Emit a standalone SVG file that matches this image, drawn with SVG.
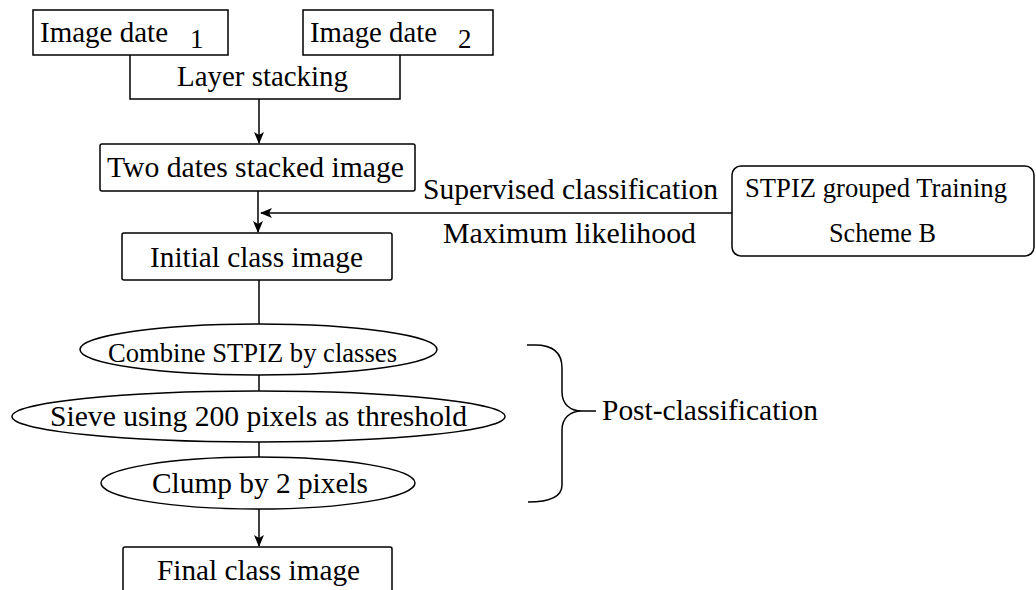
<svg xmlns="http://www.w3.org/2000/svg" width="1036" height="590" viewBox="0 0 1036 590">
<style>
.b{fill:none;stroke:#000;stroke-width:1.5}
.t{font-family:"Liberation Serif","Times New Roman",Times,serif;font-size:30px;fill:#000}
.r{font-family:"Liberation Serif","Times New Roman",Times,serif;font-size:27px;fill:#000}
.c{fill:none;stroke:#000;stroke-width:1.5}
</style>
<defs>
<marker id="ah" markerUnits="userSpaceOnUse" markerWidth="12" markerHeight="12" viewBox="0 0 12 12" refX="11" refY="6" orient="auto">
<path d="M0,1 L12,6 L0,11 L3,6 z" fill="#000"/>
</marker>
</defs>
<rect width="1036" height="590" fill="#fff"/>
<g id="connectors">
<line class="c" x1="259" y1="99" x2="259" y2="143" marker-end="url(#ah)"/>
<line class="c" x1="258" y1="191" x2="258" y2="232" marker-end="url(#ah)"/>
<line class="c" x1="732" y1="213" x2="261" y2="213" marker-end="url(#ah)"/>
<line class="c" x1="259" y1="280" x2="259" y2="324"/>
<line class="c" x1="259" y1="375" x2="259" y2="391"/>
<line class="c" x1="259" y1="442" x2="259" y2="457"/>
<line class="c" x1="259" y1="509" x2="259" y2="546" marker-end="url(#ah)"/>
<path class="c" d="M527,345 H535 C552,345 562,352 562,368 V392 C562,404 570,411 582,411 H596 M582,411 C570,411 562,418 562,430 V485 C562,497 550,502 528,502"/>
</g>
<g id="n1">
<rect class="b" x="33" y="10" width="195" height="45"/>
<text class="t" x="40" y="42" textLength="128" lengthAdjust="spacingAndGlyphs">Image date</text>
<text class="r" x="190" y="48">1</text>
</g>
<g id="n2">
<rect class="b" x="303" y="10" width="190" height="45"/>
<text class="t" x="310" y="42" textLength="127" lengthAdjust="spacingAndGlyphs">Image date</text>
<text class="r" x="458" y="48">2</text>
</g>
<g id="n3">
<path class="b" d="M130,55 V99 H400 V55"/>
<text class="t" x="177" y="86" textLength="171" lengthAdjust="spacingAndGlyphs">Layer stacking</text>
</g>
<g id="n4">
<rect class="b" x="100" y="144" width="315" height="47" rx="2"/>
<text class="t" x="107" y="177" textLength="297" lengthAdjust="spacingAndGlyphs">Two dates stacked image</text>
</g>
<g id="n5">
<rect class="b" x="732" y="166" width="302" height="90" rx="9"/>
<text class="r" x="745" y="197" textLength="262" lengthAdjust="spacingAndGlyphs">STPIZ grouped Training</text>
<text class="r" x="829" y="242" textLength="107" lengthAdjust="spacingAndGlyphs">Scheme B</text>
</g>
<g id="lbl">
<text class="t" x="423" y="199" textLength="295" lengthAdjust="spacingAndGlyphs">Supervised classification</text>
<text class="t" x="443" y="243" textLength="253" lengthAdjust="spacingAndGlyphs">Maximum likelihood</text>
<text class="t" x="602" y="420" textLength="216" lengthAdjust="spacingAndGlyphs">Post-classification</text>
</g>
<g id="n6">
<rect class="b" x="122" y="233" width="270" height="47" rx="2"/>
<text class="t" x="150" y="267" textLength="213" lengthAdjust="spacingAndGlyphs">Initial class image</text>
</g>
<g id="n7">
<ellipse class="b" cx="258.5" cy="349.5" rx="178.5" ry="25.5"/>
<text class="r" x="108" y="362" font-size="28" textLength="289" lengthAdjust="spacingAndGlyphs">Combine STPIZ by classes</text>
</g>
<g id="n8">
<ellipse class="b" cx="258.5" cy="416.5" rx="246.5" ry="25.5"/>
<text class="t" x="50" y="426" textLength="417" lengthAdjust="spacingAndGlyphs">Sieve using 200 pixels as threshold</text>
</g>
<g id="n9">
<ellipse class="b" cx="258" cy="483" rx="157" ry="26"/>
<text class="t" x="152" y="493" textLength="216" lengthAdjust="spacingAndGlyphs">Clump by 2 pixels</text>
</g>
<g id="n10">
<rect class="b" x="123" y="547" width="269" height="60" rx="2"/>
<text class="t" x="157" y="580" textLength="203" lengthAdjust="spacingAndGlyphs">Final class image</text>
</g>
</svg>
